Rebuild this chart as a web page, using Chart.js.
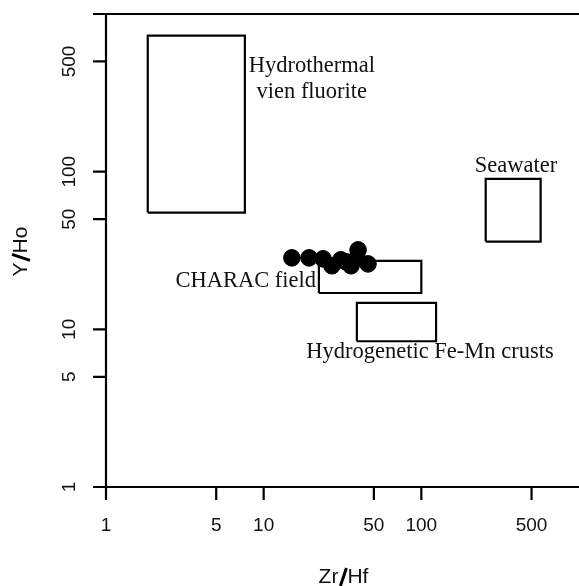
<!DOCTYPE html>
<html>
<head>
<meta charset="utf-8">
<script src="https://cdn.jsdelivr.net/npm/chart.js@4.4.0/dist/chart.umd.min.js"></script>
<style>
  html, body { margin: 0; padding: 0; background: #fff; }
  #chart { display: block; }
</style>
</head>
<body>
<canvas id="chart" width="579" height="586"></canvas>
<script>
// tick labels on both log axes
const xTicks = [1, 5, 10, 50, 100, 500];
const yTicks = [1, 5, 10, 50, 100, 500];

// samples (Zr/Hf vs Y/Ho)
const sampleZrHf = [15.1, 19.4, 23.8, 27.1, 30.9, 33.3, 35.8, 39.1, 39.7, 45.9];
const sampleYHo  = [28.4, 28.4, 28.0, 25.3, 27.6, 26.8, 25.3, 28.4, 31.9, 26.0];

// reference fields: [min, max] on each axis
const fieldNames = ['Hydrothermal vien fluorite', 'Seawater', 'CHARAC field', 'Hydrogenetic Fe-Mn crusts'];
const fieldZrHf = [[1.84, 7.6], [256, 571], [22.4, 100], [39, 124]];
const fieldYHo  = [[55, 730], [36, 90], [17, 27.2], [8.4, 14.7]];

const boxSets = fieldNames.map((name, i) => {
    const [x0, x1] = fieldZrHf[i];
    const [y0, y1] = fieldYHo[i];
    return {
        label: name,
        data: [{x: x0, y: y0}, {x: x1, y: y0}, {x: x1, y: y1}, {x: x0, y: y1}, {x: x0, y: y0}],
        showLine: true,
        borderColor: '#000',
        borderWidth: 2.2,
        pointRadius: 0,
        fill: false,
        tension: 0
    };
});

const TICK_FONT = '19px "Liberation Sans", Arial, sans-serif';
const TITLE_FONT = '21px "Liberation Sans", Arial, sans-serif';
const NOTE_FONT = '22.5px "Liberation Serif", "Times New Roman", serif';

// frame, ticks, labels and field names
const decorPlugin = {
    id: 'decor',
    afterDraw(chart) {
        const ctx = chart.ctx;
        const a = chart.chartArea;
        const xs = chart.scales.x, ys = chart.scales.y;
        ctx.save();
        ctx.strokeStyle = '#000';
        ctx.fillStyle = '#111';
        ctx.lineWidth = 2.2;
        ctx.beginPath();
        ctx.moveTo(a.left - 13, a.top); ctx.lineTo(a.right, a.top);
        ctx.moveTo(a.left - 13, a.bottom); ctx.lineTo(a.right, a.bottom);
        ctx.moveTo(a.left, a.top); ctx.lineTo(a.left, a.bottom + 13);
        xTicks.forEach(v => {
            const px = xs.getPixelForValue(v);
            ctx.moveTo(px, a.bottom); ctx.lineTo(px, a.bottom + 13);
        });
        yTicks.forEach(v => {
            const py = ys.getPixelForValue(v);
            ctx.moveTo(a.left - 13, py); ctx.lineTo(a.left, py);
        });
        ctx.stroke();

        ctx.font = TICK_FONT;
        ctx.textAlign = 'center';
        ctx.textBaseline = 'middle';
        xTicks.forEach(v => {
            ctx.fillText(String(v), xs.getPixelForValue(v), a.bottom + 39);
        });
        yTicks.forEach(v => {
            ctx.save();
            ctx.translate(a.left - 36, ys.getPixelForValue(v));
            ctx.rotate(-Math.PI / 2);
            ctx.fillText(String(v), 0, 0);
            ctx.restore();
        });

        // axis titles with a heavy slash
        const title = (parts, cx, cy, rot) => {
            ctx.save();
            ctx.translate(cx, cy);
            ctx.rotate(rot);
            ctx.font = TITLE_FONT;
            ctx.textAlign = 'left';
            const w0 = ctx.measureText(parts[0]).width;
            const w2 = ctx.measureText(parts[1]).width;
            const ws = 9;
            let x = -(w0 + ws + w2) / 2;
            ctx.fillText(parts[0], x, 0);
            ctx.lineWidth = 3;
            ctx.beginPath();
            ctx.moveTo(x + w0 + 2, 9); ctx.lineTo(x + w0 + ws - 1, -9);
            ctx.stroke();
            ctx.fillText(parts[1], x + w0 + ws, 0);
            ctx.restore();
        };
        title(['Zr', 'Hf'], (a.left + a.right) / 2 + 1, a.bottom + 90, 0);
        title(['Y', 'Ho'], 21, (a.top + a.bottom) / 2 + 1, -Math.PI / 2);

        ctx.font = NOTE_FONT;
        ctx.fillStyle = '#111';
        const note = (text, x, y, align) => {
            ctx.textAlign = align;
            ctx.fillText(text, xs.getPixelForValue(x), ys.getPixelForValue(y));
        };
        note('Hydrothermal', 20.2, 469, 'center');
        note('vien fluorite', 20.2, 321, 'center');
        note('Seawater', 398, 109, 'center');
        note('CHARAC field', 21.5, 20.3, 'right');
        note('Hydrogenetic Fe-Mn crusts', 113.5, 7.19, 'center');
        ctx.restore();
    }
};

new Chart(document.getElementById('chart'), {
    type: 'scatter',
    data: {
        datasets: [{
            label: 'Samples',
            data: sampleZrHf.map((x, i) => ({x: x, y: sampleYHo[i]})),
            backgroundColor: '#000',
            borderColor: '#000',
            pointRadius: 8.3,
            pointHoverRadius: 8.3
        }].concat(boxSets)
    },
    options: {
        responsive: false,
        animation: false,
        layout: { autoPadding: false, padding: { left: 106, top: 14, right: 0, bottom: 99 } },
        plugins: { legend: { display: false }, tooltip: { enabled: false } },
        scales: {
            x: { type: 'logarithmic', min: 1, max: 1000, display: false },
            y: { type: 'logarithmic', min: 1, max: 1000, display: false }
        }
    },
    plugins: [decorPlugin]
});
</script>
</body>
</html>
